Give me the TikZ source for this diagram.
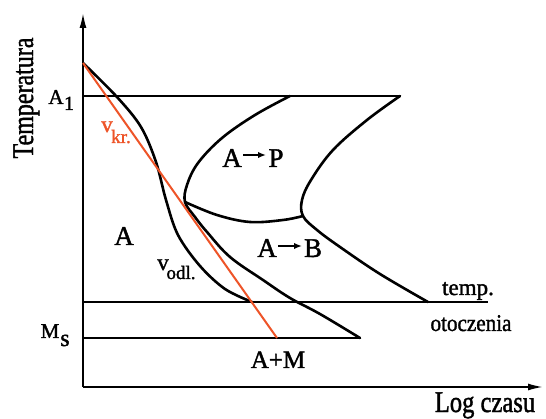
\documentclass[tikz,border=0pt]{standalone}
\usepackage{fontspec}
\usepackage{graphicx}
\setmainfont{Liberation Serif}[FakeBold=1.5]
\usetikzlibrary{arrows.meta}
\definecolor{vkr}{RGB}{238,84,40}
\begin{document}
\begin{tikzpicture}[x=1pt,y=-1pt,
  curve/.style={line width=2.6pt, line join=round, line cap=round},
  hline/.style={line width=1.8pt},
  thinline/.style={line width=1.4pt},
  axis/.style={line width=1.8pt},
  redline/.style={line width=2pt, draw=vkr},
  lbl/.style={inner sep=0pt, anchor=base},
  fs/.style={font=\fontsize{#1}{#1}\selectfont},
  tip/.style={-{Latex[length=15pt,width=7pt]}},
  txtarrow/.style={line width=1.6pt, -{Latex[length=8pt,width=6.5pt]}}]
\useasboundingbox (0,0) rectangle (546,419);
\fill[white] (0,0) rectangle (546,419);
% key points
\coordinate (O) at (83,387);
\coordinate (ytop) at (83,13);
\coordinate (xend) at (543,387);
\coordinate (S) at (83,63);
\coordinate (A1L) at (83,96);
\coordinate (A1R) at (400,96);
\coordinate (PS) at (290,96);
\coordinate (nose) at (185,202);
\coordinate (B) at (303,216);
\coordinate (TL) at (83,302);
\coordinate (TR) at (488,302);
\coordinate (TE) at (428,302);
\coordinate (VE) at (252,302);
\coordinate (ML) at (83,338);
\coordinate (MR) at (360,338);
\coordinate (RE) at (277,338);
% axes
\draw[axis,tip] (O) -- (ytop);
\draw[axis,tip] (O) -- (xend);
% horizontal lines
\draw[thinline] (A1L) -- (A1R);
\draw[hline] (TL) -- (TR);
\draw[hline] (ML) -- (MR);
% cooling curve v_odl
\draw[curve] plot[smooth, tension=0.55] coordinates {(S) (117,97) (141,127) (156,162) (166,200) (178,235) (200,266) (225,289) (VE)};
% pearlite start + bainite start
\draw[curve] plot[smooth, tension=0.6] coordinates {(PS) (255,115) (222,138) (198,163) (187,185) (nose) (195,217) (207,232) (230,257) (263,280) (290,298) (320,314) (MR)};
% pearlite finish + bainite finish
\draw[curve] plot[smooth, tension=0.6] coordinates {(A1R) (367,120) (333,150) (311,180) (302,200) (B) (317,230) (340,247) (380,274) (TE)};
% pearlite bottom
\draw[curve] plot[smooth, tension=0.6] coordinates {(nose) (217,215) (250,222) (283,220) (B)};
% critical cooling rate
\draw[redline] (S) -- (RE);
% labels
\node[lbl, fs=30, rotate=90] (ylab) at (33,98) {\scalebox{0.8}[1]{Temperatura}};
\node[lbl, fs=30] (xlab) at (485,412) {\scalebox{0.82}[1]{Log czasu}};
\node[lbl, fs=21] (a1) at (56,104) {A};
\node[lbl, fs=20] (a1s) at (69,110) {1};
\node[lbl, fs=21] (ms) at (50,338) {M};
\node[lbl, fs=24] (mss) at (65,346) {s};
\node[lbl, fs=23, text=vkr] (vk) at (107,132) {v};
\node[lbl, fs=19, text=vkr] (vks) at (121,143) {kr.};
\node[lbl, fs=23] (vo) at (163,270) {v};
\node[lbl, fs=19] (vos) at (181,279) {odl.};
% A -> P
\node[lbl, fs=27] (apA) at (232,167) {A};
\node[lbl, fs=27] (apP) at (276,167) {P};
\draw[txtarrow] (243,155) -- (266,155);
\node[lbl, fs=27] (a) at (124,245) {A};
% A -> B
\node[lbl, fs=27] (abA) at (267,257) {A};
\node[lbl, fs=27] (abB) at (313,257) {B};
\draw[txtarrow] (278,246) -- (302,246);
\node[lbl, fs=25] (am) at (278,368) {A+M};
\node[lbl, fs=23] (tmp) at (468,295) {temp.};
\node[lbl, fs=24] (oto) at (471,331) {\scalebox{0.88}[1]{otoczenia}};
\end{tikzpicture}
\end{document}
